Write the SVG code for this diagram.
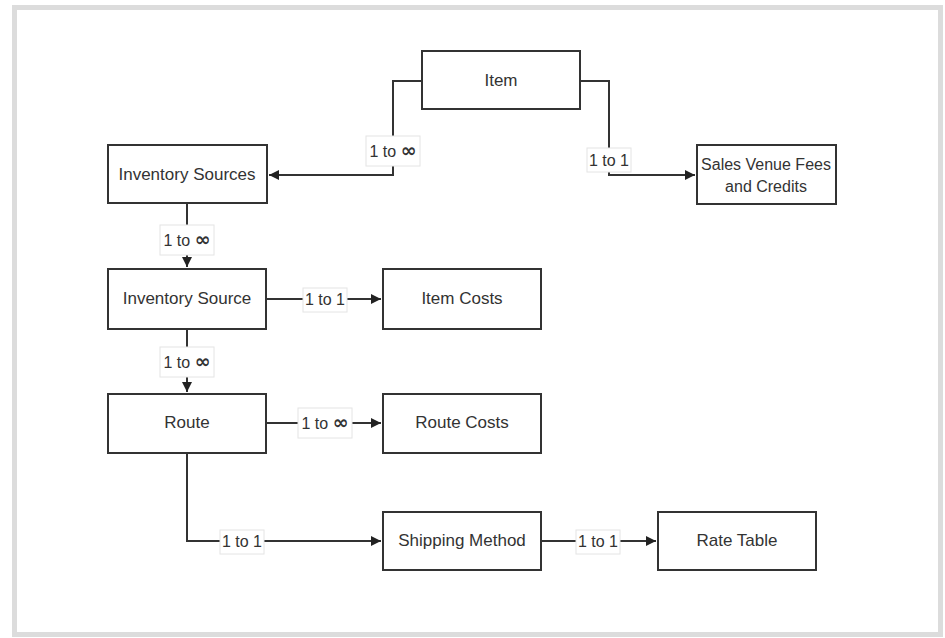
<svg xmlns="http://www.w3.org/2000/svg" width="945" height="638" viewBox="0 0 945 638">
<defs>
<marker id="arr" viewBox="0 0 10 10" refX="10" refY="5" markerWidth="10" markerHeight="10" markerUnits="userSpaceOnUse" orient="auto">
<path d="M0,0 L10,5 L0,10 z" fill="#222"/>
</marker>
<style>
.node rect{fill:#fff;stroke:#333;stroke-width:2}
.node text{font-family:"Liberation Sans",Arial,sans-serif;font-size:17px;fill:#333;text-anchor:middle}
.node text.sm{font-size:16px}
.conn path{fill:none;stroke:#333;stroke-width:2}
.lbl rect{fill:#fff;stroke:#e4e4e4;stroke-width:1}
.lbl text{font-family:"Liberation Sans",Arial,sans-serif;font-size:16px;fill:#333;text-anchor:middle}
.inf{font-family:"DejaVu Sans",sans-serif;font-size:19px;font-weight:bold}
</style>
</defs>
<rect x="0" y="0" width="945" height="638" fill="#fff"/>
<rect x="14.5" y="7.5" width="926" height="627" fill="#fff" stroke="#dcdcdc" stroke-width="5"/>

<g id="connectors" class="conn">
<path d="M422,81 H393 V175 H269" marker-end="url(#arr)"/>
<path d="M580,81 H609 V175 H695" marker-end="url(#arr)"/>
<path d="M187,203 V267" marker-end="url(#arr)"/>
<path d="M266,299 H381" marker-end="url(#arr)"/>
<path d="M187,329 V392" marker-end="url(#arr)"/>
<path d="M266,423 H381" marker-end="url(#arr)"/>
<path d="M187,453 V541 H381" marker-end="url(#arr)"/>
<path d="M541,541 H656" marker-end="url(#arr)"/>
</g>

<g id="labels" class="lbl">
<g><rect x="366" y="136" width="54" height="30"/><text x="393" y="157">1 to <tspan class="inf">∞</tspan></text></g>
<g><rect x="587" y="148" width="44" height="24"/><text x="609" y="166">1 to 1</text></g>
<g><rect x="160" y="225" width="54" height="30"/><text x="187" y="246">1 to <tspan class="inf">∞</tspan></text></g>
<g><rect x="303" y="288" width="44" height="24"/><text x="325" y="305">1 to 1</text></g>
<g><rect x="160" y="347" width="54" height="30"/><text x="187" y="368">1 to <tspan class="inf">∞</tspan></text></g>
<g><rect x="298" y="408" width="54" height="30"/><text x="325" y="429">1 to <tspan class="inf">∞</tspan></text></g>
<g><rect x="220" y="530" width="44" height="24"/><text x="242" y="547">1 to 1</text></g>
<g><rect x="576" y="530" width="44" height="24"/><text x="598" y="547">1 to 1</text></g>
</g>

<g id="item" class="node"><rect x="422" y="51" width="158" height="58"/><text x="501" y="86">Item</text></g>
<g id="inventory-sources" class="node"><rect x="108" y="145" width="159" height="58"/><text x="187" y="180">Inventory Sources</text></g>
<g id="sales-venue" class="node"><rect x="697" y="145" width="139" height="59"/><text class="sm" x="766" y="170">Sales Venue Fees</text><text class="sm" x="766" y="192">and Credits</text></g>
<g id="inventory-source" class="node"><rect x="108" y="269" width="158" height="60"/><text x="187" y="304">Inventory Source</text></g>
<g id="item-costs" class="node"><rect x="383" y="269" width="158" height="60"/><text x="462" y="304">Item Costs</text></g>
<g id="route" class="node"><rect x="108" y="394" width="158" height="59"/><text x="187" y="428">Route</text></g>
<g id="route-costs" class="node"><rect x="383" y="394" width="158" height="59"/><text x="462" y="428">Route Costs</text></g>
<g id="shipping-method" class="node"><rect x="383" y="512" width="158" height="58"/><text x="462" y="546">Shipping Method</text></g>
<g id="rate-table" class="node"><rect x="658" y="512" width="158" height="58"/><text x="737" y="546">Rate Table</text></g>
</svg>
